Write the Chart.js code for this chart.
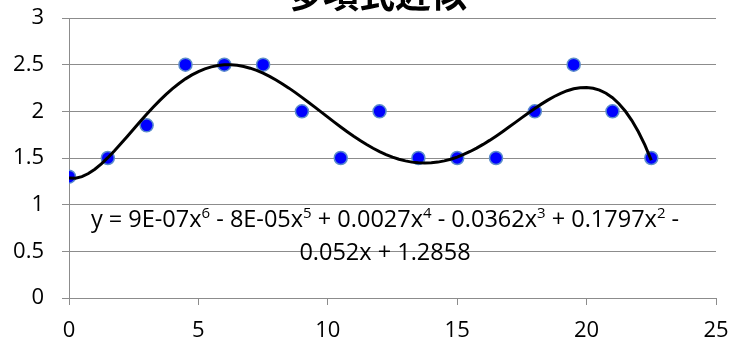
<!DOCTYPE html>
<html>
<head>
<meta charset="utf-8">
<script src="https://cdn.jsdelivr.net/npm/chart.js@4"></script>
<style>
  html, body { margin: 0; padding: 0; background: #fff; }
  #wrap { width: 732px; height: 344px; }
</style>
</head>
<body>
<div id="wrap"><canvas id="polyChart"></canvas></div>
<script>
// data
const xValues = [0, 1.5, 3, 4.5, 6, 7.5, 9, 10.5, 12, 13.5, 15, 16.5, 18, 19.5, 21, 22.5];
const yValues = [1.3, 1.5, 1.85, 2.5, 2.5, 2.5, 2, 1.5, 2, 1.5, 1.5, 1.5, 2, 2.5, 2, 1.5];
const yTickLabels = ['0', '0.5', '1', '1.5', '2', '2.5', '3'];
const xTickLabels = ['0', '5', '10', '15', '20', '25'];
const titleText = '多項式近似';
const eqLine1 = [['y = 9E-07x'], ['6', 1], [' - 8E-05x'], ['5', 1], [' + 0.0027x'], ['4', 1], [' - 0.0362x'], ['3', 1], [' + 0.1797x'], ['2', 1], [' -']];
const eqLine2 = [['0.052x + 1.2858']];

// least squares polynomial (degree 6), like the spreadsheet trendline
function polyFit(xs, ys, deg) {
  const s = 22.5;
  const n = deg + 1;
  const A = [], b = [];
  for (let i = 0; i < n; i++) { A.push(new Array(n).fill(0)); b.push(0); }
  xs.forEach((x, k) => {
    const t = x / s;
    for (let i = 0; i < n; i++) {
      b[i] += ys[k] * Math.pow(t, i);
      for (let j = 0; j < n; j++) A[i][j] += Math.pow(t, i + j);
    }
  });
  for (let c = 0; c < n; c++) {
    let p = c;
    for (let r = c + 1; r < n; r++) if (Math.abs(A[r][c]) > Math.abs(A[p][c])) p = r;
    [A[c], A[p]] = [A[p], A[c]]; [b[c], b[p]] = [b[p], b[c]];
    for (let r = c + 1; r < n; r++) {
      const f = A[r][c] / A[c][c];
      for (let j = c; j < n; j++) A[r][j] -= f * A[c][j];
      b[r] -= f * b[c];
    }
  }
  const coef = new Array(n).fill(0);
  for (let i = n - 1; i >= 0; i--) {
    let sum = b[i];
    for (let j = i + 1; j < n; j++) sum -= A[i][j] * coef[j];
    coef[i] = sum / A[i][i];
  }
  return x => coef.reduce((acc, c, i) => acc + c * Math.pow(x / s, i), 0);
}

const fit = polyFit(xValues, yValues, 6);
const trend = [];
for (let i = 0; i <= 90; i++) {
  const x = i * 0.25;
  trend.push({ x: x, y: fit(x) });
}

const eqFont = 'Open Sans';
function drawRich(ctx, segs, cx, baseline, size) {
  const supSize = Math.round(size * 0.62);
  let total = 0;
  segs.forEach(s => {
    ctx.font = (s[1] ? supSize : size) + 'px "' + eqFont + '"';
    total += ctx.measureText(s[0]).width;
  });
  let x = cx - total / 2;
  segs.forEach(s => {
    ctx.font = (s[1] ? supSize : size) + 'px "' + eqFont + '"';
    ctx.fillText(s[0], x, s[1] ? baseline - size * 0.38 : baseline);
    x += ctx.measureText(s[0]).width;
  });
}

const labelsPlugin = {
  id: 'labels',
  afterDraw(chart) {
    const ctx = chart.ctx;
    ctx.save();
    ctx.fillStyle = '#000';
    ctx.textAlign = 'center';
    ctx.textBaseline = 'alphabetic';
    ctx.font = 'bold 36px "Noto Sans CJK JP"';
    ctx.fillText(titleText, 377, 8);
    ctx.textAlign = 'left';
    drawRich(ctx, eqLine1, 385, 227, 23.5);
    drawRich(ctx, eqLine2, 385, 260, 23.5);
    ctx.restore();
  }
};

// keep the plot box fixed: no extra padding from tick labels
function noPad(s) {
  s.paddingTop = 0; s.paddingBottom = 0; s.paddingLeft = 0; s.paddingRight = 0;
}

const ctx = document.getElementById('polyChart').getContext('2d');
const polyChart = new Chart(ctx, {
  type: 'scatter',
  data: {
    datasets: [{
      label: 'trend',
      data: trend,
      showLine: true,
      borderColor: '#000',
      borderWidth: 3,
      pointRadius: 0,
      tension: 0,
      order: 0
    }, {
      label: 'data',
      data: xValues.map((x, i) => ({ x: x, y: yValues[i] })),
      backgroundColor: '#0000ff',
      borderColor: '#5b8ccc',
      borderWidth: 1.5,
      pointRadius: 6.5,
      order: 1
    }]
  },
  options: {
    responsive: true,
    maintainAspectRatio: false,
    animation: false,
    layout: { padding: { top: 18, right: 16, left: 0, bottom: 0 } },
    plugins: { legend: { display: false }, tooltip: { enabled: false } },
    scales: {
      x: {
        type: 'linear', min: 0, max: 25,
        ticks: {
          stepSize: 5, color: '#000', padding: 13,
          font: { family: 'Open Sans', size: 22 },
          callback: (v, i) => xTickLabels[i]
        },
        grid: { drawOnChartArea: false, tickLength: 7, color: '#8c8c8c' },
        border: { color: '#8c8c8c' },
        afterFit: s => { s.height = 46; noPad(s); }
      },
      y: {
        type: 'linear', min: 0, max: 3,
        ticks: {
          stepSize: 0.5, color: '#000', padding: 18,
          font: { family: 'Open Sans', size: 22 },
          callback: (v, i) => yTickLabels[i]
        },
        grid: { tickLength: 7, color: '#8c8c8c' },
        border: { color: '#8c8c8c' },
        afterFit: s => { s.width = 69; noPad(s); }
      }
    }
  },
  plugins: [labelsPlugin]
});
</script>
</body>
</html>
